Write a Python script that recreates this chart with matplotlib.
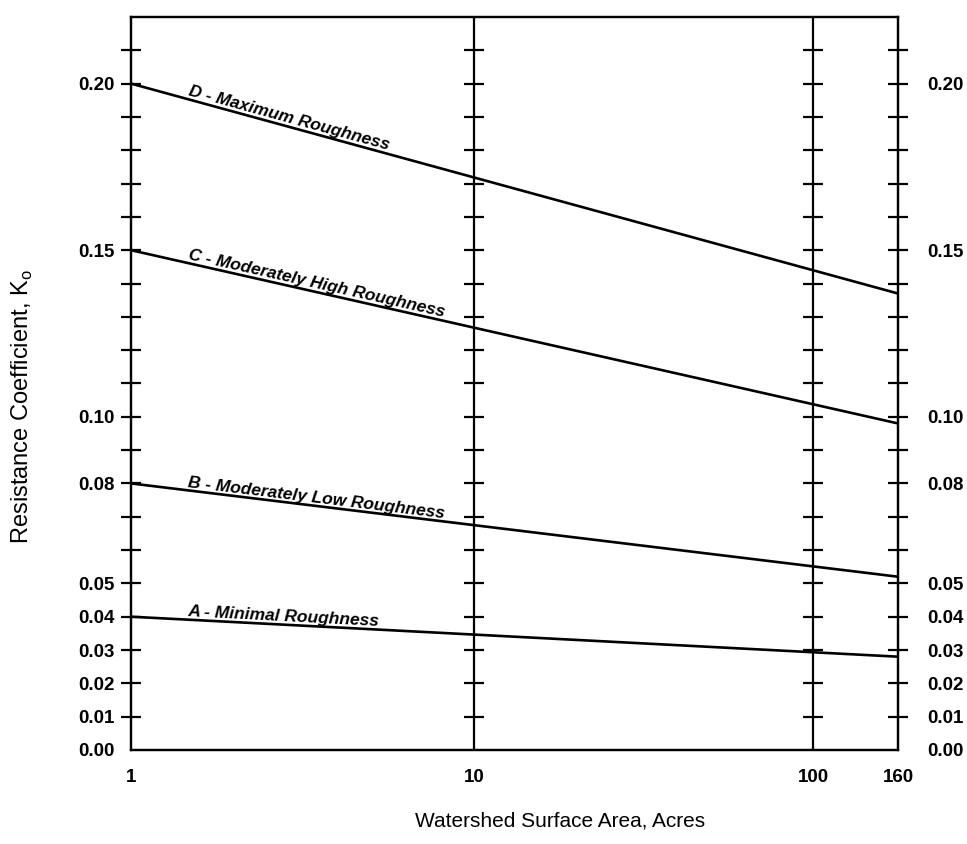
import numpy as np
import matplotlib
matplotlib.use("Agg")
import matplotlib.pyplot as plt

# Values
curve_names = ["A - Minimal Roughness", "B - Moderately Low Roughness",
               "C - Moderately High Roughness", "D - Maximum Roughness"]
area_start = 1
area_end = 160
k_start = [0.040, 0.080, 0.150, 0.200]
k_end = [0.028, 0.052, 0.098, 0.137]

x_ticks = [1, 10, 100, 160]
x_tick_labels = ["1", "10", "100", "160"]
guide_areas = [10, 100]
y_marks = [round(0.01 * i, 2) for i in range(0, 22)]
y_labelled = [0.00, 0.01, 0.02, 0.03, 0.04, 0.05, 0.08, 0.10, 0.15, 0.20]

plt.rcParams['font.family'] = ['Liberation Sans', 'DejaVu Sans']

# x axis of the original is a hand drawn log axis, decades not quite equal
knots_log = [0, 1, 2, np.log10(160)]
knots_pos = [0, 1, 1.988, 2.236]
def fwd(x):
    return np.interp(np.log10(np.clip(x, 1e-6, None)), knots_log, knots_pos)
def inv(p):
    return 10 ** np.interp(p, knots_pos, knots_log)

fig = plt.figure(figsize=(9.67, 8.44), dpi=100)
ax = fig.add_axes([0.1355, 0.1114, 0.7932, 0.8685])
ax.set_xscale('function', functions=(fwd, inv))
ax.set_xlim(area_start, area_end)
ax.set_ylim(0, 0.22)

lw = 1.6
for s in ax.spines.values():
    s.set_linewidth(lw)

# curves
for name, k0, k1 in zip(curve_names, k_start, k_end):
    ax.plot([area_start, area_end], [k0, k1], color='black', lw=1.9, solid_capstyle='butt')

# guide lines with cross marks
for g in guide_areas:
    ax.axvline(g, color='black', lw=lw)
    ax.plot([g] * (len(y_marks) - 1), y_marks[1:], ls='none', marker='_',
            ms=14.4, mew=lw, color='black')

# y ticks both sides
tick_text = [f"{v:.2f}" if any(np.isclose(v, y_labelled)) else "" for v in y_marks]
tick_font = dict(size=13.5, weight='bold')
ax.set_yticks(y_marks)
ax.set_yticklabels(tick_text, fontdict=tick_font)
ax.tick_params(axis='y', direction='inout', length=14.4, width=lw, pad=4.3)
ax2 = ax.twinx()
ax2.set_ylim(ax.get_ylim())
ax2.set_yticks(y_marks)
ax2.set_yticklabels(tick_text, fontdict=tick_font)
ax2.tick_params(axis='y', direction='inout', length=14.4, width=lw, pad=13.7)
for a in (ax, ax2):
    t0 = a.yaxis.get_major_ticks()[0]
    t0.tick1line.set_visible(False)
    t0.tick2line.set_visible(False)
for s in ax2.spines.values():
    s.set_linewidth(lw)

ax.set_xticks(x_ticks)
ax.set_xticklabels(x_tick_labels, fontdict=tick_font)
ax.xaxis.set_minor_locator(matplotlib.ticker.NullLocator())
ax.tick_params(axis='x', length=0, pad=14)

# curve labels, along the lines
label_x = 1.46
p0 = fwd(np.array([area_start]))[0]
p1 = fwd(np.array([area_end]))[0]
pl = fwd(np.array([label_x]))[0]
for name, k0, k1 in zip(curve_names, k_start, k_end):
    a = ax.transData.transform((area_start, k0))
    b = ax.transData.transform((area_end, k1))
    ang = np.degrees(np.arctan2(b[1] - a[1], b[0] - a[0]))
    t = (pl - p0) / (p1 - p0)
    yl = k0 + t * (k1 - k0)
    ax.annotate(name, (label_x, yl), xytext=(0, 2.5), textcoords='offset points',
                rotation=ang, rotation_mode='anchor', ha='left', va='baseline',
                fontsize=12.5, style='italic', weight='bold')

fig.text(22 / 967, 1 - 407 / 844, "Resistance Coefficient, K$_\\mathregular{o}$",
         rotation=90, ha='center', va='center', fontsize=17)
fig.text(560 / 967, 1 - 821 / 844, "Watershed Surface Area, Acres",
         ha='center', va='center', fontsize=15)

fig.savefig("out.png", dpi=100)
